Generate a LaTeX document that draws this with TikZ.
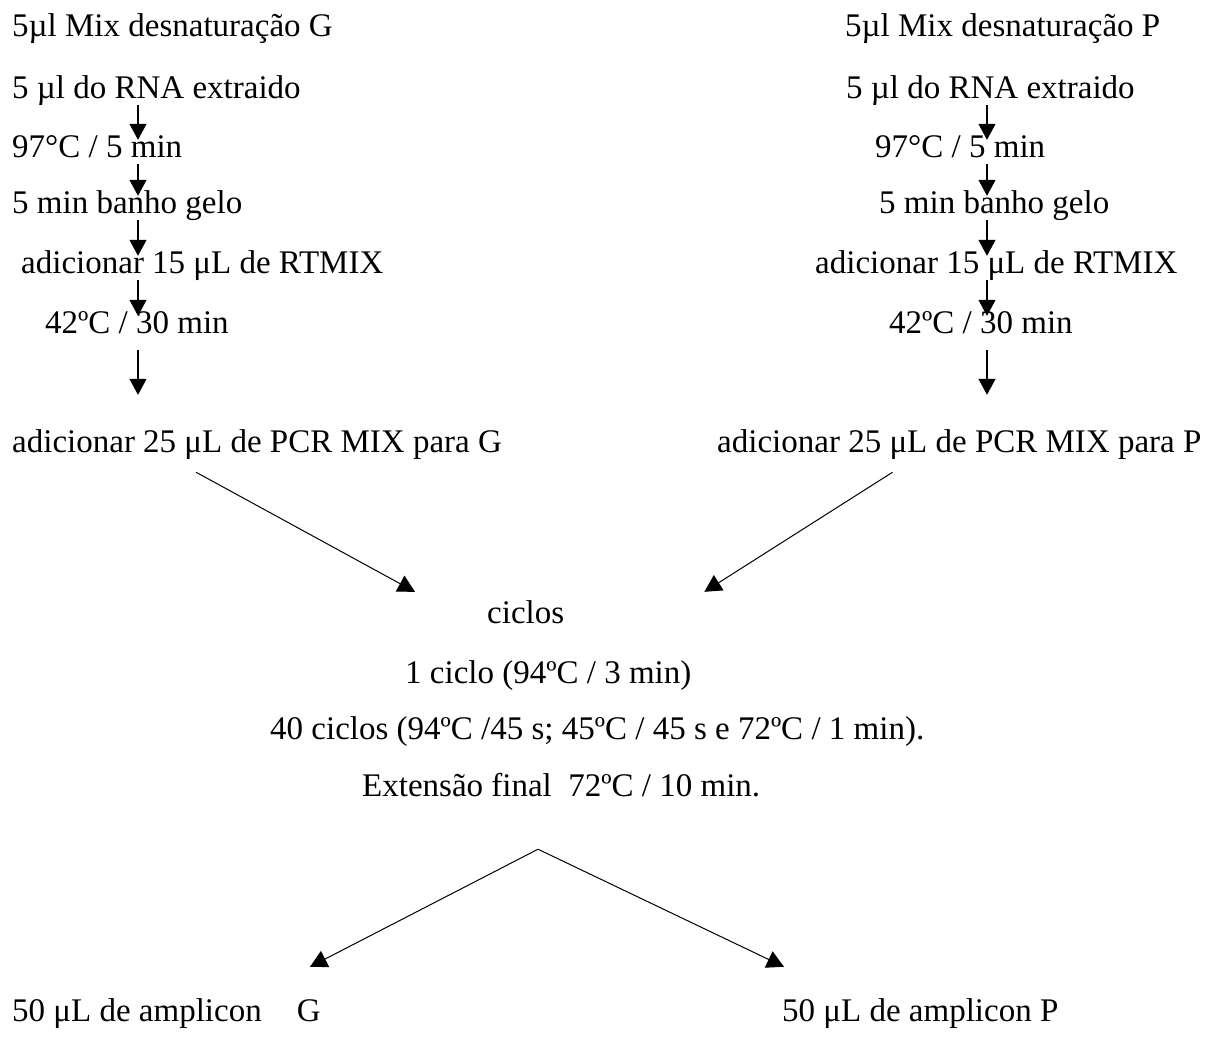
\documentclass[tikz,border=0pt]{standalone}
\usepackage{fontspec}
\setmainfont{Liberation Serif}
\usetikzlibrary{arrows.meta}
\tikzset{>=latex}
\tikzset{
    txt/.style = {anchor=base west, inner sep=0pt, text height=23pt, text depth=7pt, font=\fontsize{33}{40}\selectfont},
    feed/.style = {-{Triangle[width=17pt,length=16pt]}, line width=1.3pt, shorten >=-6pt},
    fork/.style = {-{Triangle[width=18pt,length=17pt]}, line width=1pt},
}

\begin{document}
\begin{tikzpicture}[x=1pt,y=-1pt]
    \useasboundingbox (0,0) rectangle (1220,1036);
    \coordinate (gx) at (138,0);
    \coordinate (px) at (987,0);
    \begin{scope}[every node/.style={txt}]
        % G
        \node(g1) at (12,36) {5µl Mix desnaturação G};
        \node(g2) at (12,98) {5 µl do RNA extraido};
        \node(g3) at (12,157) {97°C / 5 min};
        \node(g4) at (12,213) {5 min banho gelo};
        \node(g5) at (21,273) {adicionar 15 μL de RTMIX};
        \node(g6) at (45,333) {42ºC / 30 min};
        \node(g7) at (12,452) {adicionar 25 μL de PCR MIX para G};
        % P
        \node(p1) at (845,36) {5µl Mix desnaturação P};
        \node(p2) at (846,98) {5 µl do RNA extraido};
        \node(p3) at (875,157) {97°C / 5 min};
        \node(p4) at (879,213) {5 min banho gelo};
        \node(p5) at (815,273) {adicionar 15 μL de RTMIX};
        \node(p6) at (889,333) {42ºC / 30 min};
        \node(p7) at (717,452) {adicionar 25 μL de PCR MIX para P};
        % ciclos
        \node(c1) at (487,623) {ciclos};
        \node(c2) at (405,683) {1 ciclo (94ºC / 3 min)};
        \node(c3) at (270,739) {40 ciclos (94ºC /45 s; 45ºC / 45 s e 72ºC / 1 min).};
        \node(c4) at (362,796) {Extensão final\ \ 72ºC / 10 min.};
        % amplicons
        \node(b1) at (12,1021) {50 μL de amplicon\hspace{35pt}G};
        \node(b2) at (782,1021) {50 μL de amplicon P};
    \end{scope}
    \foreach \a/\b in {g2/g3,g3/g4,g4/g5,g5/g6}
        \draw[feed] (\a.south -| gx) -- (\b.north -| gx);
    \foreach \a/\b in {p2/p3,p3/p4,p4/p5,p5/p6}
        \draw[feed] (\a.south -| px) -- (\b.north -| px);
    \draw[feed, shorten <=10pt, shorten >=34pt] (g6.south -| gx) -- (g7.north -| gx);
    \draw[feed, shorten <=10pt, shorten >=34pt] (p6.south -| px) -- (p7.north -| px);
    \draw[fork] ([shift={(184,13)}]g7.south west) -- ([shift={(-72,-8)}]c1.north west);
    \draw[fork] ([shift={(-309,13)}]p7.south east) -- ([shift={(140,-8)}]c1.north east);
    \draw[fork] ([shift={(176,46)}]c4.south west) -- ([shift={(298,-31)}]b1.north west);
    \draw[fork] ([shift={(176,46)}]c4.south west) -- ([shift={(2,-31)}]b2.north west);
\end{tikzpicture}
\end{document}
